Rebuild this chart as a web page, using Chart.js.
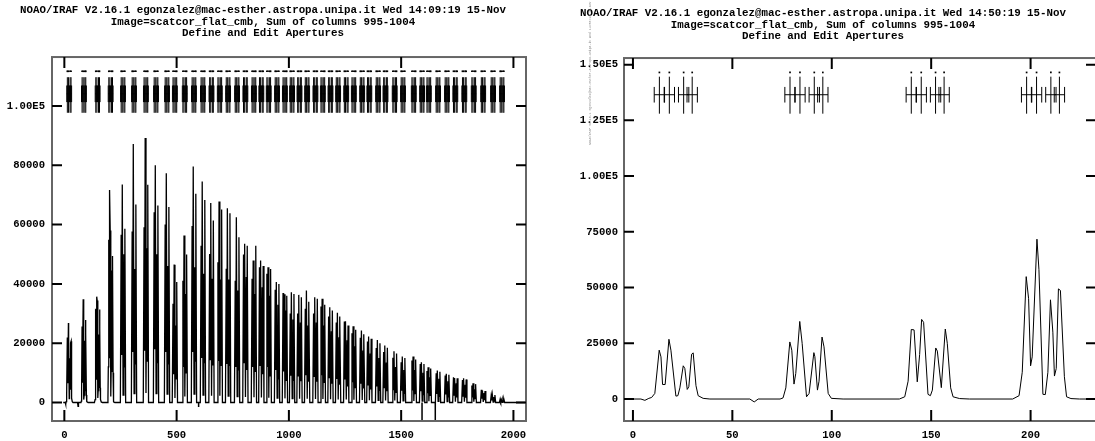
<!DOCTYPE html>
<html>
<head>
<meta charset="utf-8">
<script src="https://cdn.jsdelivr.net/npm/chart.js@4.4.0/dist/chart.umd.min.js"></script>
<style>
  html, body { margin: 0; padding: 0; background: #fff; overflow: hidden; width: 1095px; height: 441px; }
  canvas { position: absolute; top: 0; }
</style>
</head>
<body>
<canvas id="leftChart" width="545" height="441" style="left:0"></canvas>
<canvas id="rightChart" width="560" height="441" style="left:550px"></canvas>
<script>
// titles
const leftTitle = [
  "NOAO/IRAF V2.16.1 egonzalez@mac-esther.astropa.unipa.it Wed 14:09:19 15-Nov",
  "Image=scatcor_flat_cmb, Sum of columns 995-1004",
  "Define and Edit Apertures"
];
const rightTitle = [
  "NOAO/IRAF V2.16.1 egonzalez@mac-esther.astropa.unipa.it Wed 14:50:19 15-Nov",
  "Image=scatcor_flat_cmb, Sum of columns 995-1004",
  "Define and Edit Apertures"
];

// tick values / labels
const leftXTicks = [0, 500, 1000, 1500, 2000];
const leftXLabels = ["0", "500", "1000", "1500", "2000"];
const leftYTicks = [0, 20000, 40000, 60000, 80000, 100000];
const leftYLabels = ["0", "20000", "40000", "60000", "80000", "1.00E5"];
const rightXTicks = [0, 50, 100, 150, 200];
const rightXLabels = ["0", "50", "100", "150", "200"];
const rightYTicks = [0, 25000, 50000, 75000, 100000, 125000, 150000];
const rightYLabels = ["0", "25000", "50000", "75000", "1.00E5", "1.25E5", "1.50E5"];

// first columns of the cut, read point by point (right panel)
const detailX = [-5, 4, 6, 8, 9.4, 11, 13.2, 14.1, 14.9, 16.2, 18.1, 19.1, 21.6, 22.6, 23.6, 25.3, 26.1, 27.3, 28.1, 29.5, 30.3, 31.7, 32.8, 35.3, 38.7,
  58.8, 61, 63,
  74, 75.5, 76.9, 78.9, 79.9, 81, 81.9, 83.9, 85.1, 87.3, 88.6, 91, 91.5, 92.8, 93.6, 95.1, 96.1, 98.2, 99.8, 105.7,
  134, 136.7, 138.4, 140, 141.4, 143, 144.2, 145.2, 146.2, 148.4, 149.6, 150.6, 152.3, 153.1, 155.1, 157.1, 158.1, 159.8, 161, 164.3, 169.3,
  191, 194.2, 195.8, 197.8, 199, 200, 200.8, 203.2, 204.2, 206.2, 207.4, 208.7, 210, 211.2, 212, 212.9, 214, 215, 217, 218.1, 220.3, 224.6, 234];
const detailY = [0, 0, -600, 300, 700, 2500, 21900, 18900, 6500, 6500, 26800, 21900, 1300, 1500, 5000, 14900, 13700, 4300, 5500, 20100, 20700, 6000, 1500, 300, 0,
  0, -1300, 0,
  0, 500, 5000, 25600, 21900, 6700, 11500, 34800, 25000, 1000, 2500, 20800, 19000, 4000, 8000, 27800, 23400, 2500, 300, 0,
  0, 1000, 8000, 31200, 31000, 7700, 20000, 35700, 34400, 2100, 1500, 4000, 22900, 21500, 5100, 31400, 25000, 5000, 1000, 200, 0,
  0, 1500, 12000, 54900, 45000, 14900, 18900, 71700, 58000, 2100, 2000, 12000, 44500, 30000, 10300, 13700, 49400, 48700, 10000, 1000, 200, 0, 0];

// echelle orders: first column of each order, four fibre peaks and the dips between them
const orderStart = [13.3, 79, 140, 198, 253, 302, 355, 400, 449, 484, 528, 569, 609, 647, 684, 721, 761, 798, 836, 869,
  902, 939, 974, 1006, 1039, 1073, 1110, 1143, 1177, 1211, 1247, 1281, 1318, 1350, 1389, 1422, 1463, 1500, 1548, 1585,
  1615, 1656, 1696, 1733, 1773, 1815, 1857, 1901, 1941];
const fiberOffsets = [0, 5, 12.2, 16.5];
const fiber1 = [22000, 25600, 31200, 54900, 56600, 57700, 59100, 64200, 60000, 33300, 41100, 59500, 52900, 50100, 47300, 45100, 41100, 49900, 41700, 45600,
  43400, 38000, 36900, 30000, 30000, 31600, 30000, 32400, 29000, 27000, 27300, 23400, 21800, 20600, 18400, 17000, 15100, 13600, 14200, 13000,
  10600, 9900, 9100, 8500, 7600, 5700, 4300, 2400, 1200];
const fiber2 = [26800, 34800, 35700, 71700, 73500, 87200, 89200, 80000, 77300, 46500, 56300, 79600, 74500, 67300, 67800, 65500, 62500, 53500, 47900, 47900,
  45600, 40600, 36500, 37200, 36300, 37800, 35500, 35000, 32100, 30300, 27400, 25700, 24300, 22300, 21100, 19200, 17300, 15500, 15500, 13600,
  11900, 10800, 9700, 8300, 8200, 6500, 4000, 2600, 1000];
const fiber3 = [14900, 20800, 22900, 44500, 50000, 45000, 52000, 50000, 46000, 26000, 36600, 45600, 43400, 41700, 41500, 41500, 37800, 42300, 36600, 38900,
  36000, 33000, 31000, 28000, 27000, 26000, 27000, 26000, 24000, 22000, 21000, 19000, 17500, 16500, 15000, 13500, 12000, 11000, 11000, 10000,
  8500, 8000, 7200, 6500, 6000, 4500, 3200, 1900, 900];
const fiber4 = [20700, 27800, 31400, 49400, 58600, 66800, 73400, 66400, 65900, 40600, 49900, 70400, 68300, 61400, 65100, 63800, 55700, 52900, 52900, 46000,
  45000, 40000, 36000, 36600, 35500, 34000, 35000, 33000, 31000, 29000, 26000, 24500, 23000, 21500, 20000, 18500, 16500, 15000, 14500, 13000,
  11500, 10400, 9400, 8200, 7800, 6200, 3900, 2500, 1100];
const gapA = [6500, 6700, 7700, 14900, 16000, 17000, 17500, 18000, 17000, 9500, 12000, 17000, 15000, 14500, 14000, 13000, 12000, 13500, 12000, 12500,
  12000, 11000, 10500, 9000, 9000, 9200, 8800, 9200, 8400, 7900, 7800, 6800, 6300, 6000, 5400, 5000, 4400, 4000, 4100, 3800,
  3100, 2900, 2700, 2500, 2200, 1700, 1300, 700, 350];
const gapB = [1300, 1000, 2100, 2100, 2500, 3000, 3200, 3000, 2800, 1500, 2000, 2800, 2500, 2300, 2300, 2200, 2000, 1900, 1800, 1700,
  1600, 1500, 1400, 1300, 1300, 1300, 1200, 1200, 1100, 1000, 1000, 900, 850, 800, 750, 700, 650, 600, 550, 500,
  450, 400, 350, 300, 300, 250, 200, 150, 100];
const gapC = [4300, 4000, 5100, 10300, 12000, 13000, 14000, 13500, 13000, 8000, 10000, 14000, 13500, 12500, 12500, 12500, 11000, 11000, 10500, 9500,
  9000, 8000, 7500, 7500, 7200, 7000, 7000, 6800, 6300, 6000, 5400, 5000, 4700, 4400, 4100, 3800, 3400, 3100, 3000, 2700,
  2400, 2100, 1900, 1700, 1600, 1300, 800, 500, 250];

// bad columns dropping below zero
const badColumns = [598, 1593, 1652];
const badValues = [-1500, -30000, -30000];

Chart.defaults.font.family = "'Liberation Mono', 'DejaVu Sans Mono', monospace";
Chart.defaults.font.weight = "bold";
Chart.defaults.font.size = 10.6;
Chart.defaults.color = "#000";

function spectrum(maxX) {
  const pts = detailX.map((x, i) => ({ x: x, y: detailY[i] }));
  const last = detailX[detailX.length - 1];
  orderStart.forEach((s, i) => {
    if (s <= last || s > maxX) return;
    const f = fiberOffsets;
    pts.push(
      { x: s - 3.5, y: 0 },
      { x: s + f[0], y: fiber1[i] },
      { x: s + (f[0] + f[1]) / 2, y: gapA[i] },
      { x: s + f[1], y: fiber2[i] },
      { x: s + (f[1] + f[2]) / 2, y: gapB[i] },
      { x: s + f[2], y: fiber3[i] },
      { x: s + (f[2] + f[3]) / 2, y: gapC[i] },
      { x: s + f[3], y: fiber4[i] },
      { x: s + f[3] + 3.5, y: 0 }
    );
  });
  pts.push({ x: maxX + 10, y: 0 });
  return pts;
}

function apertureCenters(maxX) {
  const c = [];
  orderStart.forEach(s => fiberOffsets.forEach(o => { if (s + o < maxX) c.push(s + o); }));
  return c;
}

// vertical segments at each x from y0 to y1, broken by nulls
function verticals(xs, y0, y1) {
  const pts = [];
  xs.forEach(x => pts.push({ x: x, y: y0 }, { x: x, y: y1 }, { x: x, y: null }));
  return pts;
}

function markers(maxX, m) {
  const centers = apertureCenters(maxX);
  const limits = [];
  const bars = [];
  centers.forEach(c => {
    limits.push(c - m.half, c + m.half);
    bars.push({ x: c - m.half, y: m.bar }, { x: c + m.half, y: m.bar }, { x: c + m.half, y: null });
  });
  const line = { type: "scatter", showLine: true, spanGaps: false, pointRadius: 0, borderColor: "#000", borderWidth: 1 };
  return [
    Object.assign({}, line, { data: verticals(centers, m.lo, m.hi) }),
    Object.assign({}, line, { data: verticals(limits, m.tickLo, m.tickHi) }),
    Object.assign({}, line, { data: bars }),
    { type: "scatter", showLine: false, pointStyle: "rect", pointRadius: 1.2, borderWidth: 0,
      backgroundColor: "#000", data: centers.map(c => ({ x: c, y: m.label })) }
  ];
}

const framePlugin = {
  id: "frame",
  afterDatasetsDraw(chart) {
    const { ctx, chartArea: a, scales } = chart;
    ctx.save();
    ctx.strokeStyle = "#666";
    ctx.lineWidth = 2;
    ctx.strokeRect(a.left, a.top, a.right - a.left, a.bottom - a.top);
    ctx.strokeStyle = "#000";
    ctx.lineWidth = 2;
    ctx.beginPath();
    scales.x.ticks.forEach(t => {
      const p = scales.x.getPixelForValue(t.value);
      ctx.moveTo(p, a.bottom); ctx.lineTo(p, a.bottom - 11);
      ctx.moveTo(p, a.top); ctx.lineTo(p, a.top + 11);
    });
    scales.y.ticks.forEach(t => {
      const p = scales.y.getPixelForValue(t.value);
      ctx.moveTo(a.left, p); ctx.lineTo(a.left + 10, p);
      ctx.moveTo(a.right, p); ctx.lineTo(a.right - 10, p);
    });
    ctx.stroke();
    ctx.restore();
  }
};

// tiny rotated plot stamp on the left side of the second plot
const stampPlugin = {
  id: "stamp",
  afterDraw(chart, args, opts) {
    const ctx = chart.ctx;
    ctx.save();
    ctx.translate(opts.x, opts.y);
    ctx.rotate(-Math.PI / 2);
    ctx.font = "3.2px 'Liberation Mono'";
    ctx.fillStyle = "#888";
    ctx.textBaseline = "middle";
    ctx.fillText(opts.text, 0, 0);
    ctx.restore();
  }
};

function makeChart(id, o) {
  const data = [{
    type: "scatter", showLine: true, pointRadius: 0, borderColor: "#000", borderWidth: o.lineWidth,
    data: spectrum(o.xMax)
  }, {
    type: "scatter", showLine: true, spanGaps: false, pointRadius: 0, borderColor: "#000", borderWidth: 1.5,
    data: verticals(badColumns.filter(x => x < o.xMax), 0, 0).map((p, i) => {
      if (i % 3 === 1) p.y = badValues[badColumns.indexOf(p.x)];
      return p;
    })
  }].concat(markers(o.xMax, o.marks));

  return new Chart(document.getElementById(id).getContext("2d"), {
    type: "scatter",
    data: { datasets: data },
    plugins: o.plugins,
    options: {
      responsive: false,
      animation: false,
      events: [],
      layout: { padding: { left: 0, right: o.padRight, top: 0, bottom: 0 } },
      plugins: {
        legend: { display: false },
        tooltip: { enabled: false },
        title: {
          display: true,
          text: o.title,
          font: { size: 10.8, weight: "bold", lineHeight: 1.1 },
          padding: o.titlePad
        },
        stamp: o.stamp
      },
      scales: {
        x: {
          type: "linear", min: o.xMin, max: o.xMax,
          afterBuildTicks: s => { s.ticks = o.xTicks.map(v => ({ value: v })); },
          afterFit: s => { s.height = 20; },
          ticks: { padding: 8, maxRotation: 0, autoSkip: false,
            callback: v => o.xLabels[o.xTicks.indexOf(v)] },
          grid: { display: false, drawTicks: false },
          border: { display: false }
        },
        y: {
          type: "linear", min: o.yMin, max: o.yMax,
          afterBuildTicks: s => { s.ticks = o.yTicks.map(v => ({ value: v })); },
          afterFit: s => { s.width = o.yWidth; },
          ticks: { padding: o.yPad, autoSkip: false,
            callback: v => o.yLabels[o.yTicks.indexOf(v)] },
          grid: { display: false, drawTicks: false },
          border: { display: false }
        }
      }
    }
  });
}

makeChart("leftChart", {
  title: leftTitle,
  titlePad: { top: 4, bottom: 17.4 },
  padRight: 19,
  lineWidth: 1.3,
  xMin: -55, xMax: 2056, yMin: -6230, yMax: 116500,
  xTicks: leftXTicks, xLabels: leftXLabels, yTicks: leftYTicks, yLabels: leftYLabels,
  yWidth: 52, yPad: 7,
  marks: { half: 2.6, lo: 97700, hi: 109700, tickLo: 101300, tickHi: 106900, bar: 104100, label: 111700 },
  plugins: [framePlugin]
});

makeChart("rightChart", {
  title: rightTitle,
  titlePad: { top: 7, bottom: 15.4 },
  padRight: 14,
  lineWidth: 1,
  xMin: -4.5, xMax: 232.9, yMin: -9860, yMax: 152960,
  xTicks: rightXTicks, xLabels: rightXLabels, yTicks: rightYTicks, yLabels: rightYLabels,
  yWidth: 74, yPad: 6,
  marks: { half: 2.6, lo: 128000, hi: 144600, tickLo: 133000, tickHi: 140000, bar: 136500, label: 146500 },
  plugins: [framePlugin, stampPlugin],
  stamp: { x: 40, y: 145, text: rightTitle[0] }
});
</script>
</body>
</html>
